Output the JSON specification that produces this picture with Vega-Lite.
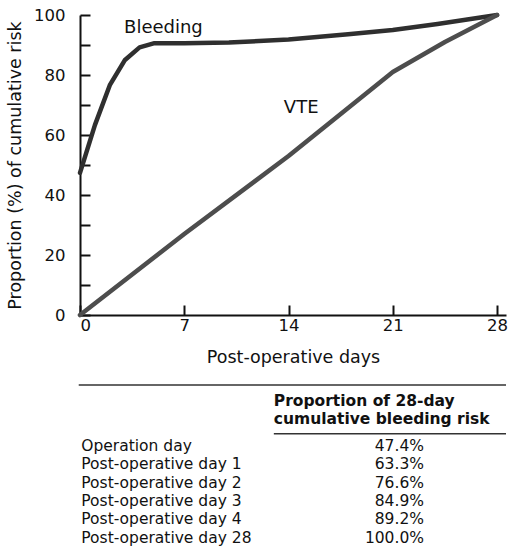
{
  "$schema": "https://vega.github.io/schema/vega-lite/v6.json",
  "padding": {"left": 6, "top": 7, "right": 0, "bottom": 0},
  "spacing": 18,
  "config": {
    "font": "DejaVu Sans",
    "view": {"stroke": null},
    "text": {"font": "DejaVu Sans", "fontSize": 18, "color": "#111"}
  },
  "datasets": {
    "curves": [
      {"series": "Bleeding", "day": 0, "value": 47.4},
      {"series": "Bleeding", "day": 1, "value": 63.3},
      {"series": "Bleeding", "day": 2, "value": 76.6},
      {"series": "Bleeding", "day": 3, "value": 84.9},
      {"series": "Bleeding", "day": 4, "value": 89.2},
      {"series": "Bleeding", "day": 5, "value": 90.6},
      {"series": "Bleeding", "day": 7, "value": 90.6},
      {"series": "Bleeding", "day": 10, "value": 90.8},
      {"series": "Bleeding", "day": 14, "value": 91.8},
      {"series": "Bleeding", "day": 18, "value": 93.6},
      {"series": "Bleeding", "day": 21, "value": 95.0},
      {"series": "Bleeding", "day": 24, "value": 97.0},
      {"series": "Bleeding", "day": 28, "value": 100},
      {"series": "VTE", "day": 0, "value": 0},
      {"series": "VTE", "day": 7, "value": 27},
      {"series": "VTE", "day": 14, "value": 53},
      {"series": "VTE", "day": 21, "value": 81},
      {"series": "VTE", "day": 24.5, "value": 91},
      {"series": "VTE", "day": 28, "value": 100}
    ],
    "labels": [
      {"series": "Bleeding", "day": 5.6, "value": 95.7},
      {"series": "VTE", "day": 14.85, "value": 69}
    ],
    "table": [
      {"row": 1, "period": "Operation day", "share": 0.474},
      {"row": 2, "period": "Post-operative day 1", "share": 0.633},
      {"row": 3, "period": "Post-operative day 2", "share": 0.766},
      {"row": 4, "period": "Post-operative day 3", "share": 0.849},
      {"row": 5, "period": "Post-operative day 4", "share": 0.892},
      {"row": 6, "period": "Post-operative day 28", "share": 1.0}
    ],
    "header": [
      {"header": "Proportion of 28-day\ncumulative bleeding risk"}
    ]
  },
  "vconcat": [
    {
      "width": 426,
      "height": 300,
      "encoding": {
        "x": {
          "field": "day", "type": "quantitative",
          "scale": {"domain": [0, 28.6], "nice": false},
          "axis": {
            "values": [0, 7, 14, 21, 28],
            "title": "Post-operative days",
            "grid": false,
            "tickSize": -10,
            "tickWidth": 2,
            "tickColor": "#111",
            "domainColor": "#111",
            "domainWidth": 2,
            "labelFontSize": 16.5,
            "labelColor": "#111",
            "labelPadding": 12,
            "titleFontSize": 17.5,
            "titleFontWeight": "normal",
            "titleColor": "#111",
            "titlePadding": 15
          }
        },
        "y": {
          "field": "value", "type": "quantitative",
          "scale": {"domain": [0, 100], "nice": false},
          "axis": {
            "values": [0, 10, 20, 30, 40, 50, 60, 70, 80, 90, 100],
            "labelExpr": "datum.value % 20 == 0 ? datum.label : ''",
            "title": "Proportion (%) of cumulative risk",
            "grid": false,
            "tickSize": -10,
            "tickWidth": 2,
            "tickColor": "#111",
            "domainColor": "#111",
            "domainWidth": 2,
            "labelFontSize": 16.5,
            "labelColor": "#111",
            "labelPadding": 25,
            "titleFontSize": 17.5,
            "titleFontWeight": "normal",
            "titleColor": "#111",
            "titlePadding": 9
          }
        }
      },
      "layer": [
        {
          "data": {"name": "curves"},
          "mark": {"type": "line", "strokeWidth": 4.5, "strokeJoin": "round", "strokeCap": "round"},
          "encoding": {
            "detail": {"field": "series"},
            "color": {
              "field": "series", "type": "nominal",
              "scale": {"domain": ["Bleeding", "VTE"], "range": ["#2f2f2f", "#4d4d4d"]},
              "legend": null
            }
          }
        },
        {
          "data": {"name": "labels"},
          "mark": {"type": "text", "fontSize": 18, "align": "center", "baseline": "middle"},
          "encoding": {"text": {"field": "series"}}
        }
      ]
    },
    {
      "width": 426,
      "height": 176,
      "layer": [
        {
          "data": {"name": "table"},
          "mark": {"type": "text", "align": "left", "baseline": "middle", "fontSize": 15.5},
          "encoding": {
            "x": {"datum": 0.3, "type": "quantitative", "scale": {"domain": [0, 100], "nice": false}, "axis": null},
            "y": {"field": "row", "type": "quantitative", "scale": {"domain": [-2.33, 7.28], "nice": false, "zero": false, "reverse": true}, "axis": null},
            "text": {"field": "period"}
          }
        },
        {
          "data": {"name": "table"},
          "mark": {"type": "text", "align": "right", "baseline": "middle", "fontSize": 15.5},
          "encoding": {
            "x": {"datum": 80.75, "type": "quantitative"},
            "y": {"field": "row", "type": "quantitative"},
            "text": {"field": "share", "type": "quantitative", "format": ".1%"}
          }
        },
        {
          "data": {"name": "header"},
          "mark": {"type": "text", "align": "left", "baseline": "middle", "fontSize": 15.5, "fontWeight": "bold", "lineBreak": "\n", "lineHeight": 18.3},
          "encoding": {
            "x": {"datum": 45.5, "type": "quantitative"},
            "y": {"datum": -1.48, "type": "quantitative"},
            "text": {"field": "header"}
          }
        },
        {
          "data": {"name": "header"},
          "mark": {"type": "rule", "strokeWidth": 2, "color": "#666"},
          "encoding": {
            "x": {"datum": -0.3, "type": "quantitative"},
            "x2": {"datum": 100},
            "y": {"datum": -2.33, "type": "quantitative"}
          }
        },
        {
          "data": {"name": "header"},
          "mark": {"type": "rule", "strokeWidth": 1.5, "color": "#333"},
          "encoding": {
            "x": {"datum": 45.5, "type": "quantitative"},
            "x2": {"datum": 100},
            "y": {"datum": 0.33, "type": "quantitative"}
          }
        }
      ]
    }
  ]
}
